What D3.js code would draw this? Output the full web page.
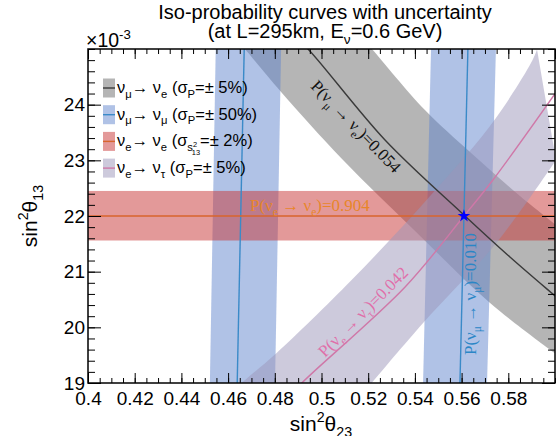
<!DOCTYPE html>
<html><head><meta charset="utf-8">
<script src="https://cdn.jsdelivr.net/npm/d3@7/dist/d3.min.js"></script>
<style>body{margin:0;background:#fff}</style>
</head><body>
<svg id="chart" width="557" height="436"></svg>
<script>
// ---------------- data ----------------
const xDomain = [0.4, 0.6];
const yDomain = [19, 25];
const xTickValues = [0.40, 0.42, 0.44, 0.46, 0.48, 0.50, 0.52, 0.54, 0.56, 0.58];
const xTickLabels = ["0.4", "0.42", "0.44", "0.46", "0.48", "0.5", "0.52", "0.54", "0.56", "0.58"];
const yTickValues = [19, 20, 21, 22, 23, 24];
const yTickLabels = ["19", "20", "21", "22", "23", "24"];

// nu_mu -> nu_e, P = 0.054 (+-5%)  (sin2theta23, sin2theta13 x1e3)
const numuNueCentral = [[0.490, 25.15], [0.4942, 25.00], [0.5272, 23.365], [0.5610, 22.018], [0.5807, 21.263], [0.6004, 20.55], [0.604, 20.42]];
const numuNueLow  = [[0.4638, 25.16], [0.4672, 25.00], [0.4827, 24.227], [0.5088, 23.024], [0.5405, 21.713], [0.5722, 20.437], [0.6004, 19.52], [0.604, 19.41]];
const numuNueHigh = [[0.5182, 25.16], [0.5216, 25.00], [0.5443, 23.904], [0.5636, 23.150], [0.5850, 22.359], [0.6021, 21.784]];

// nu_mu -> nu_mu, P = 0.010 (+-50%): two branches
const numuNumuBranchA = { lo: [[0.4522, 19.0], [0.4547, 25.0]], hi: [[0.4801, 19.0], [0.4827, 25.0]], mid: [[0.4639, 19.0], [0.4669, 25.0]] };
const numuNumuBranchB = { lo: [[0.5435, 19.0], [0.5469, 25.0]], hi: [[0.5709, 19.0], [0.5747, 25.0]], mid: [[0.5593, 19.0], [0.5627, 25.0]] };

// nu_e -> nu_e, P = 0.904, sigma(s13^2) = +-2%
const nueNueCentral = 22.0;
const nueNueBand = [21.56, 22.45];

// nu_e -> nu_tau, P = 0.042 (+-5%)
const nueNutauCentral = [[0.4891, 18.874], [0.4916, 19.0], [0.5358, 20.725], [0.5610, 22.0], [0.5734, 22.647], [0.6009, 24.25]];
const nueNutauUpper = [[0.4604, 18.784], [0.4658, 19.0], [0.4808, 19.539], [0.5129, 20.850], [0.5465, 22.359], [0.5747, 23.760], [0.5923, 25.0], [0.5919, 25.09]];
const nueNutauLower = [[0.6004, 23.006], [0.5752, 21.533], [0.5435, 20.078], [0.5215, 19.0], [0.5172, 18.784]];

// true point
const truePoint = [0.561, 22.0];

const legendEntries = [
  { key: "gray",  parts: [["ν",0],["μ",1],["→ ν",0],["e",1],[" (σ",0],["P",1],["=± 5%)",0]] },
  { key: "blue",  parts: [["ν",0],["μ",1],["→ ν",0],["μ",1],[" (σ",0],["P",1],["=± 50%)",0]] },
  { key: "red",   parts: [["ν",0],["e",1],["→ ν",0],["e",1],[" (σ",0],["s",1],["2",3],["13",4],["=± 2%)",0]] },
  { key: "lav",   parts: [["ν",0],["e",1],["→ ν",0],["τ",1],[" (σ",0],["P",1],["=± 5%)",0]] }
];

// ---------------- styles ----------------
const style = {
  gray: { fill: "#6b6b6b", op: 0.5, line: "#3a3a3a", text: "#111" },
  blue: { fill: "#6185cd", op: 0.5, line: "#3a8ac8", text: "#2a86c6" },
  red:  { fill: "#c83434", op: 0.5, line: "#d8652c", text: "#e8862a" },
  lav:  { fill: "#9b95b9", op: 0.5, line: "#cf78a8", text: "#e070aa" }
};

const svg = d3.select("#chart");
const M = { l: 88, r: 555, t: 49, b: 383 };
const x = d3.scaleLinear().domain(xDomain).range([M.l, M.r]);
const y = d3.scaleLinear().domain(yDomain).range([M.b, M.t]);

svg.append("defs").append("clipPath").attr("id", "clip")
  .append("rect").attr("x", M.l).attr("y", M.t).attr("width", M.r - M.l).attr("height", M.b - M.t);

const plot = svg.append("g").attr("clip-path", "url(#clip)");
const lineGen = d3.line().x(d => x(d[0])).y(d => y(d[1])).curve(d3.curveCatmullRom);
const linLine = d3.line().x(d => x(d[0])).y(d => y(d[1]));
function bandPath(a, b, gen) {
  const p1 = gen(a), p2 = gen(b);
  return p1 + "L" + p2.slice(1) + "Z";
}

// gray band
plot.append("path").attr("d", bandPath(numuNueLow, numuNueHigh.slice().reverse(), lineGen))
  .attr("fill", style.gray.fill).attr("fill-opacity", style.gray.op);
// blue bands
[numuNumuBranchA, numuNumuBranchB].forEach(br => {
  plot.append("path").attr("d", bandPath(br.lo, br.hi.slice().reverse(), linLine))
    .attr("fill", style.blue.fill).attr("fill-opacity", style.blue.op);
});
// red band
plot.append("rect").attr("x", x(xDomain[0])).attr("width", x(xDomain[1]) - x(xDomain[0]))
  .attr("y", y(nueNueBand[1])).attr("height", y(nueNueBand[0]) - y(nueNueBand[1]))
  .attr("fill", style.red.fill).attr("fill-opacity", style.red.op);
// lavender band
plot.append("path").attr("d", bandPath(nueNutauUpper, nueNutauLower, lineGen))
  .attr("fill", style.lav.fill).attr("fill-opacity", style.lav.op);

// central lines
plot.append("path").attr("d", lineGen(numuNueCentral)).attr("fill", "none").attr("stroke", style.gray.line).attr("stroke-width", 1.4);
[numuNumuBranchA, numuNumuBranchB].forEach(br => {
  plot.append("path").attr("d", linLine(br.mid)).attr("fill", "none").attr("stroke", style.blue.line).attr("stroke-width", 1.4);
});
plot.append("line").attr("x1", x(xDomain[0])).attr("x2", x(xDomain[1])).attr("y1", y(nueNueCentral)).attr("y2", y(nueNueCentral))
  .attr("stroke", style.red.line).attr("stroke-width", 1.4);
plot.append("path").attr("d", lineGen(nueNutauCentral)).attr("fill", "none").attr("stroke", style.lav.line).attr("stroke-width", 1.4);

// rich text helper: k 0 normal, 1 sub, 2 sup, 3 tiny sup (on sub), 4 tiny sub (under)
function rich(sel, parts, fs) {
  let cur = 0;
  parts.forEach(([t, k]) => {
    const off = [0, 0.28 * fs, -0.42 * fs, 0.05 * fs, 0.55 * fs][k];
    const size = [fs, 0.68 * fs, 0.68 * fs, 0.45 * fs, 0.45 * fs][k];
    const ts = sel.append("tspan").attr("dy", off - cur).attr("font-size", size).text(t);
    if (k === 4) ts.attr("dx", -0.32 * fs);
    cur = off;
  });
}

// curve labels (serif)
const serif = "'Liberation Serif','Times New Roman',serif";
const lab1 = svg.append("text").attr("font-family", serif).attr("font-size", 17).attr("fill", style.gray.text)
  .attr("transform", "translate(310,87) rotate(46)");
rich(lab1, [["P(ν",0],["μ",1],[" → ν",0],["e",1],[")=0.054",0]], 17);

const lab2 = svg.append("text").attr("font-family", serif).attr("font-size", 17).attr("fill", style.red.text)
  .attr("transform", "translate(250,211)");
rich(lab2, [["P(ν",0],["e",1],[" → ν",0],["e",1],[")=0.904",0]], 17);

const lab3 = svg.append("text").attr("font-family", serif).attr("font-size", 17).attr("fill", style.lav.text)
  .attr("transform", "translate(325,358) rotate(-45)");
rich(lab3, [["P(ν",0],["e",1],[" → ν",0],["τ",1],[")=0.042",0]], 17);

const lab4 = svg.append("text").attr("font-family", serif).attr("font-size", 17).attr("fill", style.blue.text)
  .attr("transform", "translate(476,355) rotate(-90)");
rich(lab4, [["P(ν",0],["μ",1],[" → ν",0],["μ",1],[")=0.010",0]], 17);

// true point star
svg.append("path").attr("d", d3.symbol(d3.symbolStar).size(50)())
  .attr("transform", `translate(${x(truePoint[0])},${y(truePoint[1])})`).attr("fill", "#0000ff");

// legend
const sans = "'Liberation Sans',Arial,sans-serif";
const legY0 = 88, legDY = 26.7;
legendEntries.forEach((e, i) => {
  const cy = legY0 + i * legDY;
  const g = svg.append("g");
  g.append("rect").attr("x", 103).attr("y", cy - 9.5).attr("width", 12).attr("height", 19)
    .attr("fill", style[e.key].fill).attr("fill-opacity", style[e.key].op);
  g.append("line").attr("x1", 103).attr("x2", 115).attr("y1", cy).attr("y2", cy)
    .attr("stroke", style[e.key].line).attr("stroke-width", 1.4);
  const t = g.append("text").attr("x", 117).attr("y", cy + 5).attr("font-family", sans).attr("font-size", 16.5).attr("fill", "#000");
  rich(t, e.parts, 16.5);
});

// axes (ROOT style, ticks inside)
const axG = svg.append("g").attr("font-family", sans);
const minorX = d3.range(0.4, 0.6001, 0.005);
const minorY = d3.range(19, 25.001, 0.2);
function styleAxis(g) { g.select(".domain").remove(); g.selectAll("line").attr("stroke", "#000"); }
axG.append("g").attr("transform", `translate(0,${M.b})`)
  .call(d3.axisBottom(x).tickValues(minorX).tickSize(-5).tickFormat("")).call(styleAxis);
axG.append("g").attr("transform", `translate(0,${M.b})`)
  .call(d3.axisBottom(x).tickValues(xTickValues).tickSize(-10).tickPadding(8.5).tickFormat((d, i) => xTickLabels[i]))
  .call(styleAxis)
  .call(g => g.selectAll("text").attr("font-size", 19).attr("fill", "#000"));
axG.append("g").attr("transform", `translate(0,${M.t})`)
  .call(d3.axisTop(x).tickValues(minorX).tickSize(-5).tickFormat("")).call(styleAxis);
axG.append("g").attr("transform", `translate(0,${M.t})`)
  .call(d3.axisTop(x).tickValues(xTickValues.concat([0.6])).tickSize(-10).tickFormat("")).call(styleAxis);
axG.append("g").attr("transform", `translate(${M.l},0)`)
  .call(d3.axisLeft(y).tickValues(minorY).tickSize(-7).tickFormat("")).call(styleAxis);
axG.append("g").attr("transform", `translate(${M.l},0)`)
  .call(d3.axisLeft(y).tickValues(yTickValues).tickSize(-13).tickPadding(3).tickFormat((d, i) => yTickLabels[i]))
  .call(styleAxis)
  .call(g => g.selectAll("text").attr("font-size", 19).attr("fill", "#000"));
axG.append("g").attr("transform", `translate(${M.r},0)`)
  .call(d3.axisRight(y).tickValues(minorY).tickSize(-7).tickFormat("")).call(styleAxis);
axG.append("g").attr("transform", `translate(${M.r},0)`)
  .call(d3.axisRight(y).tickValues(yTickValues).tickSize(-13).tickFormat("")).call(styleAxis);

svg.append("rect").attr("x", M.l).attr("y", M.t).attr("width", M.r - M.l).attr("height", M.b - M.t)
  .attr("fill", "none").attr("stroke", "#000").attr("stroke-width", 1.5);

// exponent
const ex = svg.append("text").attr("x", 86).attr("y", 47).attr("font-family", sans).attr("font-size", 19.5);
rich(ex, [["×10", 0], ["-3", 2]], 19.5);

// axis titles
const xt = svg.append("text").attr("x", 321).attr("y", 431).attr("text-anchor", "middle").attr("font-family", sans).attr("font-size", 21);
rich(xt, [["sin", 0], ["2", 2], ["θ", 0], ["23", 1]], 21);
const yt = svg.append("text").attr("transform", "translate(37,216) rotate(-90)").attr("text-anchor", "middle").attr("font-family", sans).attr("font-size", 21);
rich(yt, [["sin", 0], ["2", 2], ["θ", 0], ["13", 1]], 21);

// title
svg.append("text").attr("x", 325).attr("y", 19).attr("text-anchor", "middle").attr("font-family", sans).attr("font-size", 20)
  .text("Iso-probability curves with uncertainty");
const t2 = svg.append("text").attr("x", 325).attr("y", 38).attr("text-anchor", "middle").attr("font-family", sans).attr("font-size", 20);
rich(t2, [["(at L=295km, E", 0], ["ν", 1], ["=0.6 GeV)", 0]], 20);
</script>
</body></html>
